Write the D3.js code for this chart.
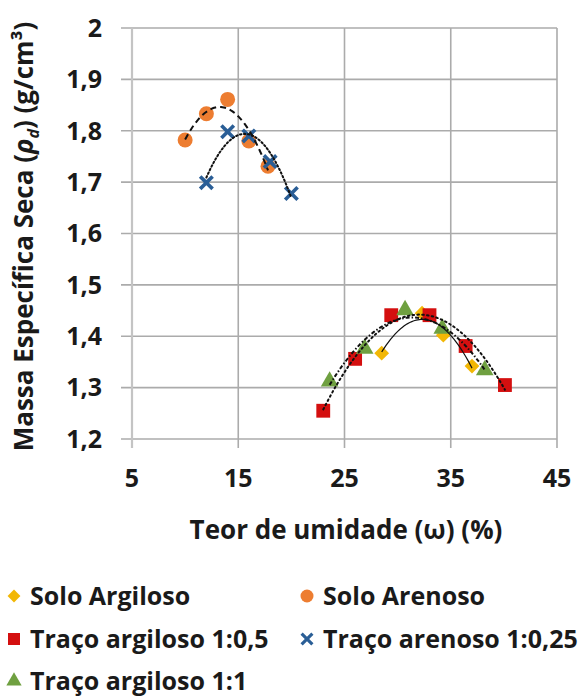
<!DOCTYPE html>
<html>
<head>
<meta charset="utf-8">
<script src="https://cdn.jsdelivr.net/npm/d3@7"></script>
<style>
  body { margin: 0; background: #fff; }
  text { font-family: "Open Sans", Lato, sans-serif; font-weight: 700; fill: #1a1a1a; }
</style>
</head>
<body>
<div class="chart"></div>
<script>
// data
const soloArgilosoX = [28.5, 32.3, 34.3, 37.0]
const soloArgilosoY = [1.367, 1.445, 1.402, 1.342]

const soloArenosoX = [10, 12, 14, 16, 17.8]
const soloArenosoY = [1.782, 1.833, 1.861, 1.780, 1.731]

const tracoArg05X = [23.0, 26.0, 29.4, 33.0, 36.4, 40.1]
const tracoArg05Y = [1.255, 1.356, 1.441, 1.441, 1.381, 1.305]

const tracoAren025X = [12, 14, 16, 18, 20]
const tracoAren025Y = [1.699, 1.798, 1.790, 1.740, 1.678]

const tracoArg11X = [23.6, 26.9, 30.7, 34.2, 38.2]
const tracoArg11Y = [1.312, 1.376, 1.451, 1.415, 1.334]

const xTicks = [5, 15, 25, 35, 45]
const yTicks = [1.2, 1.3, 1.4, 1.5, 1.6, 1.7, 1.8, 1.9, 2]

const seriesNames = ["Solo Argiloso", "Solo Arenoso", "Traço argiloso 1:0,5", "Traço arenoso 1:0,25", "Traço argiloso 1:1"]

const series = [
    {name: seriesNames[0], xs: soloArgilosoX, ys: soloArgilosoY, color: "#F2B705", symbol: d3.symbolDiamond2, dash: null},
    {name: seriesNames[1], xs: soloArenosoX, ys: soloArenosoY, color: "#ED7D31", symbol: d3.symbolCircle, dash: "6,4"},
    {name: seriesNames[2], xs: tracoArg05X, ys: tracoArg05Y, color: "#D40F0F", symbol: d3.symbolSquare, dash: "1.6,3.2"},
    {name: seriesNames[3], xs: tracoAren025X, ys: tracoAren025Y, color: "#2A5E96", symbol: "x", dash: "1.5,2.5"},
    {name: seriesNames[4], xs: tracoArg11X, ys: tracoArg11Y, color: "#6FA040", symbol: d3.symbolTriangle, dash: "4,2,1.5,2"}
]

const width = 582, height = 700
const margin = {left: 132, right: 25, top: 28, bottom: 261}

const svg = d3.select(".chart").append("svg")
    .attr("width", width)
    .attr("height", height)

const x = d3.scaleLinear().domain([5, 45]).range([margin.left, width - margin.right])
const y = d3.scaleLinear().domain([1.2, 2]).range([height - margin.bottom, margin.top])

const fmt = d3.formatLocale({decimal: ",", thousands: ".", grouping: [3], currency: ["", ""]}).format("~g")

// grid
svg.append("g").selectAll("line.h")
    .data(yTicks)
    .enter().append("line")
    .attr("x1", x(5) - 11).attr("x2", x(45))
    .attr("y1", d => y(d)).attr("y2", d => y(d))
    .attr("stroke", "#ababab").attr("stroke-width", 1.6)

svg.append("g").selectAll("line.v")
    .data(xTicks)
    .enter().append("line")
    .attr("x1", d => x(d)).attr("x2", d => x(d))
    .attr("y1", y(2)).attr("y2", y(1.2) + 9)
    .attr("stroke", d => d === 5 ? "#c4c4c4" : "#ababab")
    .attr("stroke-width", d => d === 5 ? 2.2 : 1.6)

// tick labels
svg.append("g").selectAll("text")
    .data(yTicks)
    .enter().append("text")
    .attr("x", x(5) - 30)
    .attr("y", d => y(d))
    .attr("dy", "0.35em")
    .attr("text-anchor", "end")
    .style("font-size", "25px")
    .text(d => fmt(d))

svg.append("g").selectAll("text")
    .data(xTicks)
    .enter().append("text")
    .attr("x", d => x(d))
    .attr("y", y(1.2) + 39)
    .attr("dy", "0.35em")
    .attr("text-anchor", "middle")
    .style("font-size", "25px")
    .text(d => d)

// axis titles
svg.append("text")
    .attr("x", 346)
    .attr("y", y(1.2) + 91)
    .attr("dy", "0.35em")
    .attr("text-anchor", "middle")
    .style("font-size", "26px")
    .text("Teor de umidade  (ω) (%)")

let yTitle = svg.append("text")
    .attr("transform", "translate(24," + ((y(2) + y(1.2)) / 2 + 3) + ") rotate(-90)")
    .attr("text-anchor", "middle")
    .attr("dy", "0.35em")
    .style("font-size", "26px")
yTitle.append("tspan").text("Massa Específica Seca (")
yTitle.append("tspan").style("font-style", "italic").text("ρ")
yTitle.append("tspan").style("font-style", "italic").style("font-size", "16px").attr("dy", "6").text("d")
yTitle.append("tspan").attr("dy", "-6").text(")  (g/cm³)")

// quadratic least squares, like the excel polynomial trendline
function polyFit(xs, ys) {
    let s = [0, 0, 0, 0, 0], t = [0, 0, 0]
    xs.forEach((xv, i) => {
        for (let k = 0; k < 5; k++) s[k] += Math.pow(xv, k)
        for (let k = 0; k < 3; k++) t[k] += ys[i] * Math.pow(xv, k)
    })
    let m = [[s[0], s[1], s[2], t[0]], [s[1], s[2], s[3], t[1]], [s[2], s[3], s[4], t[2]]]
    for (let i = 0; i < 3; i++) {
        for (let j = i + 1; j < 3; j++) {
            let f = m[j][i] / m[i][i]
            for (let k = i; k < 4; k++) m[j][k] -= f * m[i][k]
        }
    }
    let c = [0, 0, 0]
    for (let i = 2; i >= 0; i--) {
        let v = m[i][3]
        for (let k = i + 1; k < 3; k++) v -= m[i][k] * c[k]
        c[i] = v / m[i][i]
    }
    return xv => c[0] + c[1] * xv + c[2] * xv * xv
}

function drawMarker(g, s, px, py, size) {
    if (s.symbol === "x") {
        let a = size * 0.5, w = size * 0.17
        g.append("path")
            .attr("d", `M${-a},${-a + w}L${-a + w},${-a}L0,${-w}L${a - w},${-a}L${a},${-a + w}L${w},0L${a},${a - w}L${a - w},${a}L0,${w}L${-a + w},${a}L${-a},${a - w}L${-w},0Z`)
            .attr("transform", `translate(${px},${py})`)
            .attr("fill", s.color)
    } else {
        let area = s.symbol === d3.symbolCircle ? Math.PI * size * size / 4
            : s.symbol === d3.symbolSquare ? size * size * 0.85
            : s.symbol === d3.symbolTriangle ? size * size * 0.6
            : size * size * 0.62
        g.append("path").attr("d", d3.symbol().type(s.symbol).size(area)())
            .attr("transform", `translate(${px},${py})`)
            .attr("fill", s.color)
    }
}

const markers = svg.append("g")
series.forEach(s => {
    s.xs.forEach((xv, i) => drawMarker(markers, s, x(xv), y(s.ys[i]), 15))
})

// trendlines
const line = d3.line().x(d => x(d[0])).y(d => y(d[1]))
series.forEach(s => {
    let f = polyFit(s.xs, s.ys)
    let lo = d3.min(s.xs), hi = d3.max(s.xs)
    let pts = d3.range(0, 61).map(i => {
        let xv = lo + (hi - lo) * i / 60
        return [xv, f(xv)]
    })
    svg.append("path")
        .attr("d", line(pts))
        .attr("fill", "none")
        .attr("stroke", "#111")
        .attr("stroke-width", s.dash ? 2 : 1.2)
        .attr("stroke-linecap", s.dash && s.dash.startsWith("1.") ? "round" : "butt")
        .attr("stroke-dasharray", s.dash)
})

// legend
const legendPos = [[14, 596], [307, 596], [14, 639], [307, 639], [14, 681]]
const legend = svg.selectAll("g.legend")
    .data(series)
    .enter().append("g")
    .attr("class", "legend")

legend.each(function(s, i) {
    let g = d3.select(this)
    let p = legendPos[i]
    drawMarker(g, s, p[0], p[1], 13)
    g.append("text")
        .attr("x", p[0] + 16)
        .attr("y", p[1])
        .attr("dy", "0.35em")
        .style("font-size", "25px")
        .text(s.name)
})
</script>
</body>
</html>
